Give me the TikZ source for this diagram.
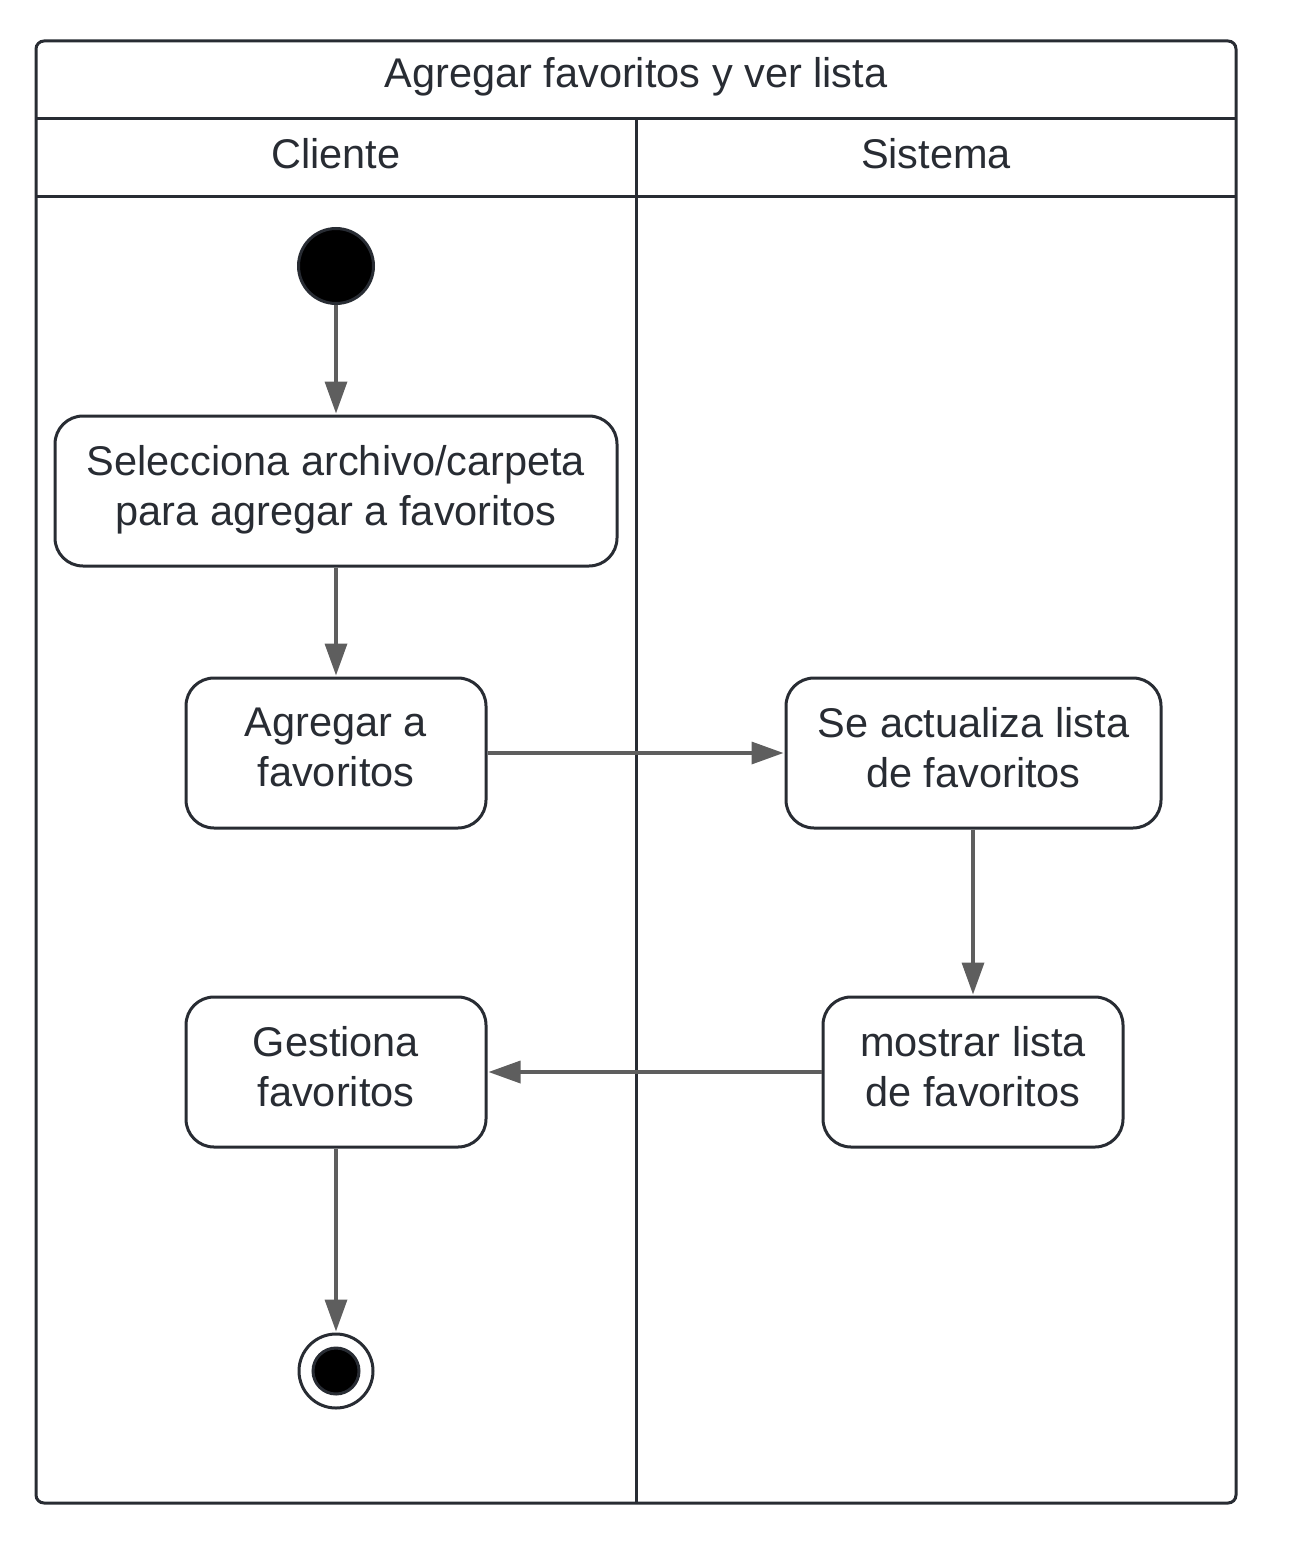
\documentclass[tikz,border=0pt]{standalone}
\usepackage{fontspec}
\setmainfont{Liberation Sans}
\usetikzlibrary{arrows.meta}
\definecolor{stroke}{HTML}{282C33}
\definecolor{arrowc}{HTML}{5E5E5E}
\definecolor{txt}{HTML}{282C33}
\newcommand{\lowdepth}{\rule[-11pt]{0pt}{1pt}}
\begin{document}
\begin{tikzpicture}[x=1pt,y=-1pt,
  frame/.style={draw=stroke,line width=3pt},
  actbox/.style={draw=stroke,line width=3pt,rounded corners=28pt,align=center,
    font=\fontsize{41.5}{50}\selectfont,text=txt,inner sep=0pt},
  flow/.style={draw=arrowc,line width=3.5pt,-{Triangle[length=32pt,width=22pt]},shorten >=1pt},
  lbl/.style={font=\fontsize{41.5}{50}\selectfont,text=txt}]
\useasboundingbox (0,0) rectangle (1288,1541);
% frame
\draw[frame,rounded corners=8pt] (36,41) rectangle (1236,1503);
\draw[frame] (36,119) -- (1236,119);
\draw[frame] (36,197) -- (1236,197);
\draw[frame] (636,119) -- (636,1503);
\node[lbl] (title) at (636,77) {Agregar favoritos y ver lista};
\node[lbl] (lane1) at (336,154) {Cliente};
\node[lbl] (lane2) at (936,154) {Sistema};
% nodes
\node[circle,draw=stroke,line width=3pt,fill=black,minimum size=75pt,inner sep=0pt] (start) at (336,266) {};
\node[actbox,minimum width=562pt,minimum height=150pt] (b1) at (336,491) {Selecciona archivo/carpeta\\para agregar a favoritos\lowdepth};
\node[actbox,minimum width=300pt,minimum height=150pt] (b2) at (336,753) {Agregar a\\favoritos\lowdepth};
\node[actbox,minimum width=375pt,minimum height=150pt] (b3) at (973.5,753) {Se actualiza lista\\de favoritos\lowdepth};
\node[actbox,minimum width=300pt,minimum height=150pt] (b4) at (973,1072) {mostrar lista\\de favoritos\lowdepth};
\node[actbox,minimum width=300pt,minimum height=150pt] (b5) at (336,1072) {Gestiona\\favoritos\lowdepth};
\node[circle,draw=stroke,line width=3pt,minimum size=74pt,inner sep=0pt] (end) at (336,1371) {};
\node[circle,draw=stroke,line width=3pt,fill=black,minimum size=46pt,inner sep=0pt] (endin) at (336,1371) {};
% flows
\draw[flow] (start) -- (b1);
\draw[flow] (b1) -- (b2);
\draw[flow] (b2) -- (b3);
\draw[flow] (b3.south -| b4.north) -- (b4.north);
\draw[flow] (b4) -- (b5);
\draw[flow] (b5) -- (end);
\end{tikzpicture}
\end{document}
